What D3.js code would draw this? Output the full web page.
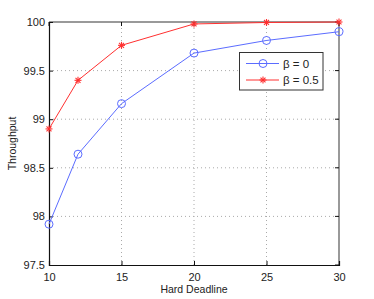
<!DOCTYPE html>
<html lang="en">
<head>
    <meta charset="UTF-8">
    <title>Throughput vs Hard Deadline</title>
    <script src="https://d3js.org/d3.v7.min.js"></script>
    <style>
        body { margin: 0; background: #fff; }
        svg text { font-family: "Liberation Sans", Arial, sans-serif; fill: #222; }
    </style>
</head>
<body>
<div id="chart"></div>
<script>
    // data
    const deadlines = [10, 12, 15, 20, 25, 30];
    const beta0 = [97.92, 98.64, 99.16, 99.68, 99.81, 99.90];
    const beta05 = [98.90, 99.40, 99.76, 99.98, 99.995, 100.0];
    const xTicks = [10, 15, 20, 25, 30];
    const yTicks = [97.5, 98, 98.5, 99, 99.5, 100];
    const seriesNames = ["\u03b2 = 0", "\u03b2 = 0.5"];

    const W = 374, H = 299;
    const m = {left: 49, top: 22, right: 35, bottom: 34};

    const svg = d3.select("#chart").append("svg")
        .attr("width", W).attr("height", H);

    const x = d3.scaleLinear().domain([10, 30]).range([m.left, W - m.right]);
    const y = d3.scaleLinear().domain([97.5, 100]).range([H - m.bottom, m.top]);

    // dotted grid
    const grid = svg.append("g");
    grid.selectAll(".gx").data(xTicks.slice(1, -1)).enter().append("line")
        .attr("x1", d => x(d)).attr("x2", d => x(d))
        .attr("y1", y(97.5)).attr("y2", y(100))
        .attr("stroke", "#aaa").attr("stroke-width", 1).attr("stroke-dasharray", "1,3");
    grid.selectAll(".gy").data(yTicks.slice(1, -1)).enter().append("line")
        .attr("y1", d => y(d)).attr("y2", d => y(d))
        .attr("x1", x(10)).attr("x2", x(30))
        .attr("stroke", "#aaa").attr("stroke-width", 1).attr("stroke-dasharray", "1,3");

    // box
    svg.append("line").attr("x1", x(10)).attr("x2", x(30)).attr("y1", y(100)).attr("y2", y(100))
        .attr("stroke", "#777").attr("stroke-width", 1.5);
    svg.append("line").attr("x1", x(30)).attr("x2", x(30)).attr("y1", y(100)).attr("y2", y(97.5))
        .attr("stroke", "#777").attr("stroke-width", 1.5);

    // axes
    const xAxis = d3.axisBottom(x).tickValues(xTicks).tickSize(-4).tickPadding(8).tickFormat(d3.format("d"));
    const yAxis = d3.axisLeft(y).tickValues(yTicks).tickSize(-4).tickPadding(4).tickFormat(d => d);

    const gx = svg.append("g").attr("transform", `translate(0,${y(97.5)})`).call(xAxis);
    const gy = svg.append("g").attr("transform", `translate(${x(10)},0)`).call(yAxis);
    [gx, gy].forEach(g => {
        g.select(".domain").attr("stroke", "#111").attr("stroke-width", 1.2);
        g.selectAll(".tick line").attr("stroke", "#111");
        g.selectAll(".tick text").attr("font-size", 11).attr("fill", "#222");
    });
    // right-side ticks
    svg.selectAll(".rt").data(yTicks).enter().append("line")
        .attr("x1", x(30)).attr("x2", x(30) - 4)
        .attr("y1", d => y(d)).attr("y2", d => y(d))
        .attr("stroke", "#111");
    svg.selectAll(".tt").data(xTicks).enter().append("line")
        .attr("y1", y(100)).attr("y2", y(100) + 4)
        .attr("x1", d => x(d)).attr("x2", d => x(d))
        .attr("stroke", "#111");

    // labels
    svg.append("text").attr("x", (x(10) + x(30)) / 2).attr("y", 293)
        .attr("text-anchor", "middle").attr("font-size", 10.5).text("Hard Deadline");
    svg.append("text").attr("transform", `translate(16,${(y(97.5) + y(100)) / 2}) rotate(-90)`)
        .attr("text-anchor", "middle").attr("font-size", 10.5).text("Throughput");

    const line = d3.line().x((d, i) => x(deadlines[i])).y(d => y(d));

    const blue = "#5b6cff", red = "#ff3030";

    // blue series
    svg.append("path").datum(beta0).attr("d", line)
        .attr("fill", "none").attr("stroke", blue).attr("stroke-width", 1);
    svg.selectAll(".c0").data(beta0).enter().append("circle")
        .attr("cx", (d, i) => x(deadlines[i])).attr("cy", d => y(d)).attr("r", 4)
        .attr("fill", "none").attr("stroke", blue).attr("stroke-width", 1);

    // red series
    svg.append("path").datum(beta05).attr("d", line)
        .attr("fill", "none").attr("stroke", red).attr("stroke-width", 1);

    function star(g, cx, cy, col) {
        const r = 3.5;
        [0, 45, 90, 135].forEach(a => {
            const rad = a * Math.PI / 180;
            g.append("line")
                .attr("x1", cx - r * Math.cos(rad)).attr("y1", cy - r * Math.sin(rad))
                .attr("x2", cx + r * Math.cos(rad)).attr("y2", cy + r * Math.sin(rad))
                .attr("stroke", col).attr("stroke-width", 1.1);
        });
    }
    const stars = svg.append("g");
    beta05.forEach((d, i) => star(stars, x(deadlines[i]), y(d), red));

    // legend
    const lg = svg.append("g");
    lg.append("rect").attr("x", 239.5).attr("y", 52.5).attr("width", 83.5).attr("height", 37.5)
        .attr("fill", "#fff").attr("stroke", "#333").attr("stroke-width", 1);
    const ly = [63.5, 80];
    lg.append("line").attr("x1", 246).attr("x2", 279).attr("y1", ly[0]).attr("y2", ly[0])
        .attr("stroke", blue);
    lg.append("circle").attr("cx", 263).attr("cy", ly[0]).attr("r", 4)
        .attr("fill", "none").attr("stroke", blue);
    lg.append("line").attr("x1", 246).attr("x2", 279).attr("y1", ly[1]).attr("y2", ly[1])
        .attr("stroke", red);
    star(lg, 263, ly[1], red);
    seriesNames.forEach((s, i) => {
        lg.append("text").attr("x", 283).attr("y", ly[i] + 4)
            .attr("font-size", 11.5).text(s);
    });
</script>
</body>
</html>
